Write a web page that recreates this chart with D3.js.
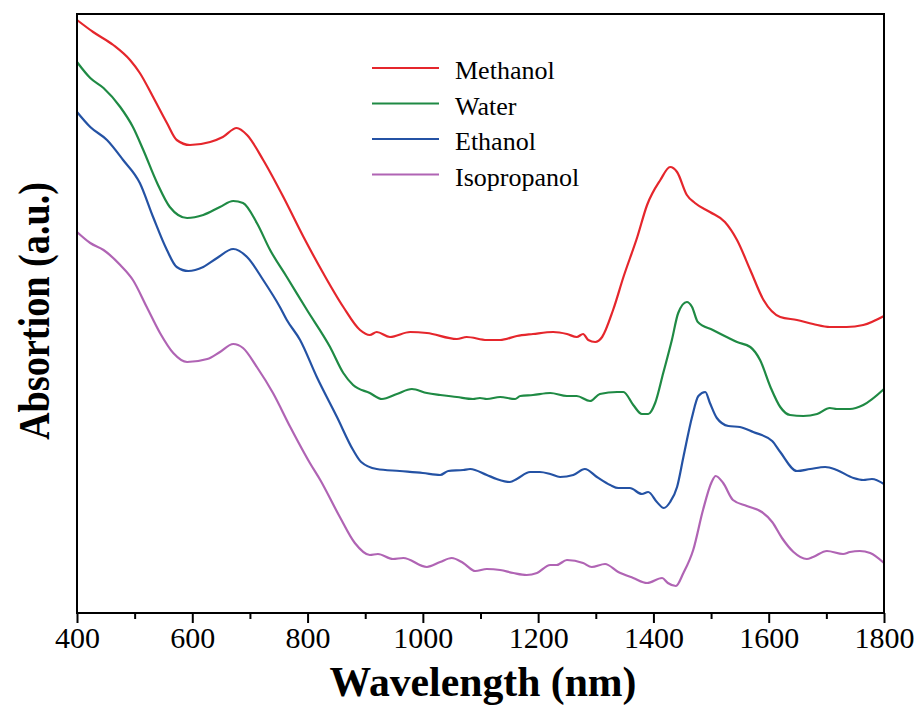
<!DOCTYPE html>
<html>
<head>
<meta charset="utf-8">
<script src="https://cdn.jsdelivr.net/npm/d3@7"></script>
<style>
  body { margin: 0; background: #fff; }
  svg { display: block; }
  text { font-family: "Liberation Serif", "Times New Roman", serif; fill: #000; }
</style>
</head>
<body>
<svg id="chart" width="920" height="706"></svg>
<script>
"use strict";

// Solvent names and line colours, in legend order
const seriesNames = ["Methanol", "Water", "Ethanol", "Isopropanol"];
const seriesColors = ["#e5262c", "#1f8a44", "#2452a4", "#b064b4"];

// Spectra: [wavelength nm, absorption a.u.]
const methanol = [
    [400, 593], [428, 581], [463, 568], [492, 553], [509, 540], [532, 516], [556, 490], [573, 473],
    [596, 468], [631, 471], [653, 476], [677, 485], [695, 478], [723, 453], [758, 416], [793, 376],
    [827, 340], [862, 306], [891, 283], [908, 278], [920, 281], [943, 276], [978, 281], [1007, 280],
    [1059, 274], [1076, 276], [1111, 273], [1134, 273], [1163, 277], [1191, 279], [1226, 281], [1250, 279],
    [1267, 276], [1278, 279], [1287, 273], [1299, 271], [1311, 276], [1330, 303], [1348, 336], [1372, 376],
    [1389, 408], [1412, 433], [1429, 446], [1441, 441], [1458, 418], [1472, 410], [1498, 401], [1524, 391],
    [1545, 373], [1568, 343], [1591, 313], [1620, 296], [1649, 293], [1677, 289], [1706, 286], [1735, 286],
    [1764, 288], [1800, 297]
];
const water = [
    [400, 551], [423, 535], [446, 525], [475, 506], [497, 486], [515, 463], [539, 430], [561, 406],
    [591, 395], [619, 398], [648, 406], [671, 412], [688, 410], [712, 390], [735, 363], [764, 336],
    [799, 303], [839, 266], [862, 240], [879, 228], [908, 220], [929, 214], [955, 219], [981, 224],
    [1007, 220], [1030, 218], [1059, 216], [1087, 214], [1099, 215], [1111, 214], [1134, 216], [1160, 214],
    [1169, 217], [1191, 218], [1221, 220], [1250, 217], [1267, 217], [1290, 212], [1307, 219], [1337, 221],
    [1348, 221], [1365, 208], [1380, 199], [1391, 199], [1403, 210], [1417, 240], [1432, 273], [1443, 300],
    [1458, 311], [1467, 306], [1477, 291], [1503, 283], [1527, 276], [1545, 271], [1568, 266], [1585, 253],
    [1603, 226], [1620, 206], [1637, 198], [1660, 197], [1684, 199], [1706, 205], [1718, 204], [1741, 204],
    [1764, 208], [1800, 224]
];
const ethanol = [
    [400, 501], [423, 486], [452, 473], [480, 453], [509, 430], [532, 396], [556, 363], [573, 346],
    [593, 342], [619, 346], [643, 355], [671, 364], [695, 356], [723, 333], [752, 306], [764, 293],
    [787, 273], [816, 236], [851, 196], [879, 163], [893, 151], [920, 144], [960, 142], [1000, 140],
    [1030, 138], [1044, 142], [1070, 143], [1082, 144], [1111, 138], [1128, 134], [1151, 131], [1163, 134],
    [1186, 141], [1203, 141], [1221, 139], [1238, 136], [1261, 138], [1281, 144], [1302, 136], [1325, 128],
    [1339, 125], [1359, 125], [1380, 119], [1391, 121], [1406, 111], [1418, 105], [1429, 111], [1441, 126],
    [1452, 156], [1467, 196], [1478, 217], [1490, 221], [1498, 210], [1510, 195], [1530, 187], [1550, 186],
    [1573, 181], [1606, 172], [1620, 161], [1649, 142], [1672, 144], [1698, 146], [1718, 143], [1747, 135],
    [1764, 133], [1779, 134], [1800, 129]
];
const isopropanol = [
    [400, 381], [423, 370], [446, 363], [475, 348], [497, 333], [521, 306], [544, 280], [567, 260],
    [591, 251], [626, 254], [648, 261], [671, 269], [688, 265], [712, 246], [740, 220], [770, 186],
    [804, 150], [822, 133], [856, 96], [882, 70], [908, 58], [922, 59], [948, 54], [966, 55],
    [1007, 46], [1030, 51], [1050, 55], [1070, 50], [1091, 42], [1111, 44], [1134, 43], [1157, 40],
    [1180, 38], [1198, 40], [1221, 48], [1232, 48], [1250, 53], [1278, 50], [1293, 46], [1316, 49],
    [1339, 41], [1365, 35], [1389, 30], [1415, 35], [1425, 30], [1439, 27], [1452, 40], [1469, 63],
    [1486, 103], [1501, 131], [1508, 137], [1521, 130], [1538, 113], [1562, 107], [1588, 101], [1606, 91],
    [1623, 75], [1643, 61], [1666, 54], [1677, 56], [1701, 62], [1729, 59], [1741, 61], [1758, 62],
    [1776, 60], [1800, 50]
];
const allSeries = [methanol, water, ethanol, isopropanol];

// Axis ticks
const majorTicks = [400, 600, 800, 1000, 1200, 1400, 1600, 1800];
const minorTicks = [500, 700, 900, 1100, 1300, 1500, 1700];

const margin = {top: 14, right: 36, bottom: 93, left: 77},
    width = 920 - margin.left - margin.right,
    height = 706 - margin.top - margin.bottom;

const svg = d3.select("#chart");
const plot = svg.append("g")
    .attr("transform", `translate(${margin.left},${margin.top})`);

const x = d3.scaleLinear().domain([400, 1800]).range([0, width]);
const y = d3.scaleLinear().domain([0, 599]).range([height, 0]);

const line = d3.line()
    .x((d) => x(d[0]))
    .y((d) => y(d[1]))
    .curve(d3.curveMonotoneX);

plot.selectAll("path.spectrum")
    .data(allSeries)
    .enter()
    .append("path")
    .attr("class", "spectrum")
    .attr("d", line)
    .attr("fill", "none")
    .attr("stroke", (d, i) => seriesColors[i])
    .attr("stroke-width", 2.2)
    .attr("stroke-linejoin", "round");

// minor ticks first, then the labelled axis
plot.append("g")
    .attr("transform", `translate(0,${height})`)
    .call(d3.axisBottom(x).tickValues(minorTicks).tickSize(6).tickFormat(""))
    .call((g) => g.select(".domain").remove())
    .call((g) => g.selectAll("line").attr("stroke-width", 2));

plot.append("g")
    .attr("transform", `translate(0,${height})`)
    .call(d3.axisBottom(x).tickValues(majorTicks).tickSize(10).tickPadding(4).tickSizeOuter(0).tickFormat(d3.format("d")))
    .call((g) => g.select(".domain").remove())
    .call((g) => g.selectAll("line").attr("stroke-width", 2))
    .call((g) => g.selectAll("text")
        .attr("font-family", "Liberation Serif, serif")
        .attr("font-size", 30)
        .attr("fill", "#000"));

// frame
plot.append("rect")
    .attr("width", width)
    .attr("height", height)
    .attr("fill", "none")
    .attr("stroke", "#000")
    .attr("stroke-width", 2);

// legend
const legend = plot.append("g")
    .attr("transform", `translate(${372 - margin.left},${68 - margin.top})`);
seriesNames.forEach((name, i) => {
    const row = legend.append("g").attr("transform", `translate(0,${i * 35.5})`);
    row.append("line")
        .attr("x1", 0).attr("x2", 67)
        .attr("stroke", seriesColors[i])
        .attr("stroke-width", 2.2);
    row.append("text")
        .attr("x", 83)
        .attr("y", 11)
        .attr("font-size", 26)
        .text(name);
});

// axis titles
svg.append("text")
    .attr("x", 483)
    .attr("y", 696)
    .attr("text-anchor", "middle")
    .attr("font-size", 42)
    .attr("font-weight", "bold")
    .attr("textLength", 307)
    .attr("lengthAdjust", "spacingAndGlyphs")
    .text("Wavelength (nm)");

svg.append("text")
    .attr("transform", "translate(49,311) rotate(-90)")
    .attr("text-anchor", "middle")
    .attr("font-size", 44)
    .attr("font-weight", "bold")
    .attr("textLength", 258)
    .attr("lengthAdjust", "spacingAndGlyphs")
    .text("Absortion (a.u.)");
</script>
</body>
</html>
